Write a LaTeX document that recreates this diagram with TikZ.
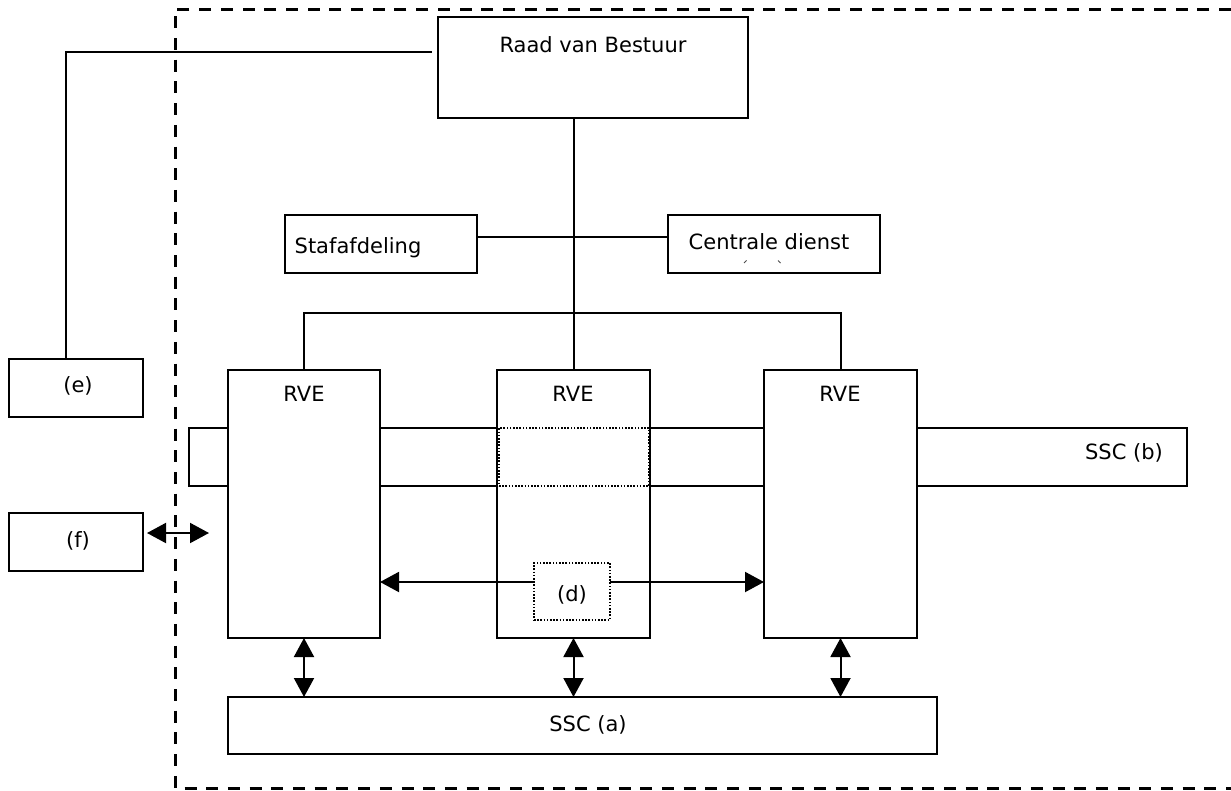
\documentclass[tikz,border=0pt]{standalone}
\usepackage{fontspec}
\setmainfont{DejaVu Sans}
\usetikzlibrary{arrows.meta}
\begin{document}
\begin{tikzpicture}[x=1pt,y=-1pt,
  box/.style={draw=black,line width=2pt,fill=white,inner sep=0pt,outer sep=0pt,anchor=north west},
  lbl/.style={inner sep=0pt,font=\fontsize{21}{25}\selectfont},
  conn/.style={draw=black,line width=2pt},
  dbl/.style={draw=black,line width=2pt,{Triangle[length=19pt,width=20pt]}-{Triangle[length=19pt,width=20pt]}},
  sgl/.style={draw=black,line width=2pt,-{Triangle[length=19pt,width=20pt]}},
  border/.style={draw=black,line width=3pt,dash pattern=on 12pt off 9.7pt},
  dotbox/.style={draw=black,line width=1.6pt,dash pattern=on 1.6pt off 1.6pt}]
\useasboundingbox (0,0) rectangle (1231,790);
% dashed outer frame
\draw[border] (1231,9) -- (175,9) -- (175,788) -- (1231,788);
% boxes
\node[box,minimum width=310pt,minimum height=101pt] (raad) at (438,17) {};
\node[box,minimum width=192pt,minimum height=58pt] (staf) at (285,215) {};
\node[box,minimum width=212pt,minimum height=58pt] (cd) at (668,215) {};
\node[box,minimum width=134pt,minimum height=58pt] (e) at (9,359) {};
\node[box,minimum width=134pt,minimum height=58pt] (f) at (9,513) {};
\node[box,minimum width=998pt,minimum height=58pt] (sscb) at (189,428) {};
\node[box,minimum width=152pt,minimum height=268pt] (rveL) at (228,370) {};
\node[box,minimum width=153pt,minimum height=268pt] (rveM) at (497,370) {};
\node[box,minimum width=153pt,minimum height=268pt] (rveR) at (764,370) {};
\node[box,minimum width=709pt,minimum height=57pt] (ssca) at (228,697) {};
\node[dotbox,inner sep=0pt,outer sep=0pt,anchor=north west,minimum width=150pt,minimum height=58pt] (band) at (499,428) {};
\node[dotbox,inner sep=0pt,outer sep=0pt,anchor=north west,minimum width=76pt,minimum height=57pt,fill=white] (d) at (534,563) {};
% labels
\node[lbl] (traad) at (593,45) {Raad van Bestuur};
\node[lbl] (tstaf) at (358,248) {Stafafdeling};
\node[lbl] (tcd) at (769,242) {Centrale dienst};
\node[lbl] (trveL) at (304,394) {RVE};
\node[lbl] (trveM) at (573,394) {RVE};
\node[lbl] (trveR) at (840,394) {RVE};
\node[lbl,anchor=east] (tsscb) at (1163,453) {SSC (b)};
\node[lbl] (te) at (78,386) {(e)};
\node[lbl] (tf) at (78,541) {(f)};
\node[lbl] (td) at (572,595) {(d)};
\node[lbl] (tssca) at (588,725) {SSC (a)};
% small remnant marks in Centrale dienst
\draw[line width=0.8pt,black!70] (744,263) -- (746.5,260.5);
\draw[line width=0.8pt,black!70] (778,260.5) -- (780.5,263);
% connectors
\draw[conn] (rveM.north) -- (rveM.north |- raad.south);
\draw[conn] (staf.east |- 0,237) -- (cd.west |- 0,237);
\draw[conn] (rveL.north) -- (rveL.north |- 0,313) -- (rveR.north |- 0,313) -- (rveR.north);
\coordinate (ecorner) at (66,52);
\draw[conn,shorten >=6pt] (e.north -| ecorner) -- (ecorner) -- (raad.west |- ecorner);
\coordinate (fend) at (209,533);
\draw[dbl] (f.east |- fend) ++(4,0) -- (fend);
\draw[sgl] (d.west |- 0,582) -- (rveL.east |- 0,582);
\draw[sgl] (d.east |- 0,582) -- (rveR.west |- 0,582);
\draw[dbl] (rveL.south) -- (rveL.south |- ssca.north);
\draw[dbl] (rveM.south) -- (rveM.south |- ssca.north);
\draw[dbl] (rveR.south) -- (rveR.south |- ssca.north);
\end{tikzpicture}
\end{document}
